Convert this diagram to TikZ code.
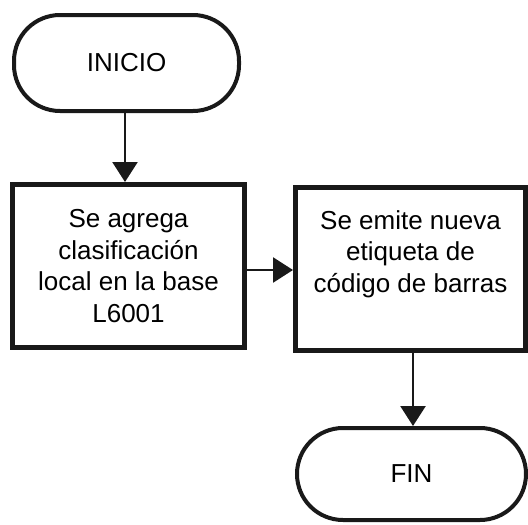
\documentclass[tikz,border=0pt]{standalone}
\usepackage{fontspec}
\setmainfont{Liberation Sans}
\usetikzlibrary{arrows.meta}
\begin{document}
\begin{tikzpicture}[x=1pt,y=-1pt,
  txt/.style={font=\fontsize{26}{31.5}\selectfont, align=center, inner sep=0pt},
  term/.style={draw=black!90, line width=4pt, rounded corners=46pt, minimum width=229pt, inner sep=0pt, txt},
  procbox/.style={draw=black!90, line width=5pt, minimum width=231pt, minimum height=163pt, inner sep=0pt, txt},
  flow/.style={draw=black!90, line width=2.5pt, -{Triangle[length=20pt,width=25pt]}}
]
\useasboundingbox (0,0) rectangle (528,525);
\node[term, minimum width=225pt, minimum height=96pt] (inicio) at (126.5,63) {INICIO};
\node[procbox, minimum width=232pt] (box1) at (128.5,266) {Se agrega\\clasificación\\local en la base\\L6001};
\node[procbox, minimum width=230pt] (box2) at (410.5,269) {};
\node[txt] (t2) at (410.5,254) {Se emite nueva\\etiqueta de\\código de barras};
\node[term, minimum width=229pt, minimum height=92pt] (fin) at (411.5,474) {FIN};
\draw[flow] (inicio.south -| 125,0) -- (box1.north -| 125,0);
\draw[flow] (box1.east |- 0,270) -- (box2.west |- 0,270);
\draw[flow] (box2.south -| 413,0) -- (fin.north -| 413,0);
\end{tikzpicture}
\end{document}
